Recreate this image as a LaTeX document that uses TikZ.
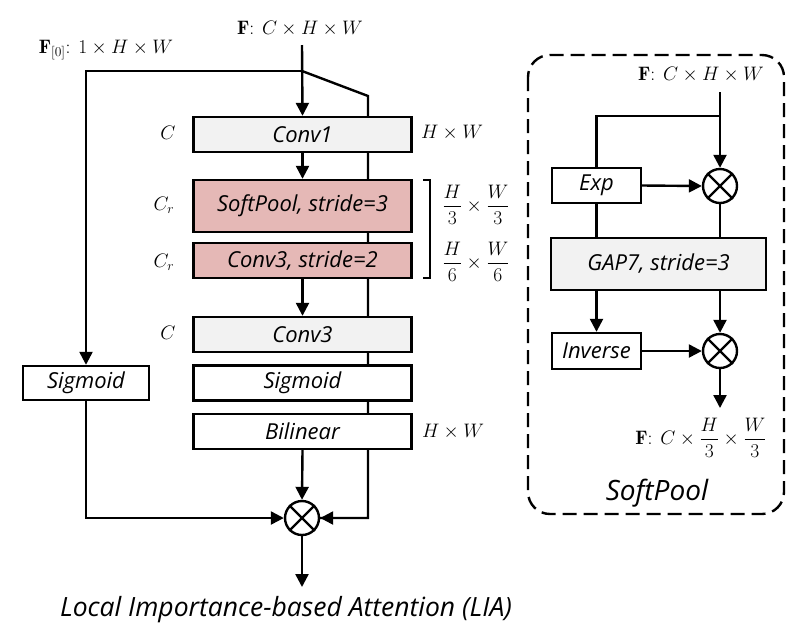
\documentclass[tikz,border=0pt]{standalone}
\usepackage{fontspec}
\setsansfont{Open Sans}
\usetikzlibrary{arrows.meta,backgrounds,calc}
\definecolor{boxgray}{HTML}{F2F2F2}
\definecolor{boxpink}{HTML}{E5B8B6}
\tikzset{
  lw/.style={line width=2.4pt},
  arr/.style={lw,-{Triangle[length=13pt,width=13pt]}},
  blk/.style={draw,lw,rectangle,inner sep=0pt,font=\sffamily\itshape\fontsize{22}{24}\selectfont},
  mainblk/.style={blk,minimum width=218pt,minimum height=35pt},
  smallblk/.style={blk,minimum width=89pt,minimum height=35pt},
  mathlbl/.style={inner sep=0pt,font=\fontsize{17.28}{20}\selectfont},
  mulnode/.style={draw,lw,circle,minimum size=34pt,inner sep=0pt},
}
\newcommand{\ml}[1]{\scalebox{1.13}{#1}}
\newcommand{\mulcross}[1]{\draw[lw] (#1.north west) -- (#1.south east); \draw[lw] (#1.north east) -- (#1.south west);}
\begin{document}
\begin{tikzpicture}[x=1pt,y=-1pt]
\useasboundingbox (0,0) rectangle (799,641);
% ---------- left: LIA ----------
\node[mathlbl] (ftop) at (300,29) {\ml{$\mathbf{F}$: $C\times H\times W$}};
\node[mathlbl] (f0) at (106,50) {\ml{$\mathbf{F}_{[0]}$: $1\times H\times W$}};
\node[mainblk,fill=boxgray] (conv1) at (302.5,134.5) {Conv1};
\node[mainblk,fill=boxpink,minimum height=52pt] (sp) at (302.5,206) {SoftPool, stride=3};
\node[mainblk,fill=boxpink] (c3s) at (302.5,260.5) {Conv3, stride=2};
\node[mainblk,fill=boxgray] (conv3) at (302.5,334.5) {Conv3};
\node[mainblk,fill=white] (sig) at (302.5,383) {Sigmoid};
\node[mainblk,fill=white] (bil) at (302.5,431.5) {Bilinear};
\node[blk,fill=white,minimum width=126pt,minimum height=34pt] (lsig) at (86,383) {Sigmoid};
\node[mulnode] (mul) at (302,518) {};
\mulcross{mul}
\node[mathlbl] (lc1) at (168,133) {\ml{$C$}};
\node[mathlbl] (lcr1) at (164,205) {\ml{$C_r$}};
\node[mathlbl] (lcr2) at (164,262) {\ml{$C_r$}};
\node[mathlbl] (lc2) at (168,333) {\ml{$C$}};
\node[mathlbl] (lhw1) at (452,133) {\ml{$H\times W$}};
\node[mathlbl] (lhw2) at (453,432) {\ml{$H\times W$}};
\node[mathlbl] (fr1) at (476,205) {\ml{$\displaystyle\frac{H}{3}\times\frac{W}{3}$}};
\node[mathlbl] (fr2) at (476,262) {\ml{$\displaystyle\frac{H}{6}\times\frac{W}{6}$}};
\draw[lw] (423,180) -- (430,180) -- (430,278) -- (423,278);
\coordinate (s1) at (302,45);
\coordinate (j1) at (302,71);
\coordinate (k1) at (368,96);
\coordinate (e1) at (302,587);
\begin{scope}[on background layer]
\draw[lw] (j1) -- (k1) -- (k1 |- mul) -- (mul.east);
\end{scope}
\draw[arr] (k1 |- mul) -- (mul.east);
\draw[arr] (s1) -- (conv1.north);
\draw[arr] (j1) -| (lsig.north);
\draw[arr] (conv1.south) -- (sp.north);
\draw[arr] (c3s.south) -- (conv3.north);
\draw[arr] (bil.south) -- (mul.north);
\draw[arr] (lsig.south) |- (mul.west);
\draw[arr] (mul.south) -- (e1);
\node[inner sep=0pt,font=\sffamily\itshape\fontsize{26.5}{30}\selectfont] (title) at (286,610) {Local Importance-based Attention (LIA)};
% ---------- right: SoftPool ----------
\draw[lw,dash pattern=on 14pt off 7pt,rounded corners=22pt] (528,55) rectangle (784,514);
\node[mathlbl] (ftop2) at (701,75) {\ml{$\mathbf{F}$: $C\times H\times W$}};
\node[smallblk,fill=white] (exp) at (596.5,185.5) {Exp};
\node[mulnode] (m1) at (720,186) {};
\mulcross{m1}
\node[blk,fill=boxgray,minimum width=215pt,minimum height=52pt] (gap) at (658.5,264) {GAP7, stride=3};
\node[smallblk,fill=white,minimum height=36pt] (inv) at (596.5,351) {Inverse};
\node[mulnode] (m2) at (720,351) {};
\mulcross{m2}
\node[mathlbl] (fout) at (701,438) {\ml{$\mathbf{F}$: $C\times\displaystyle\frac{H}{3}\times\frac{W}{3}$}};
\node[inner sep=0pt,font=\sffamily\itshape\fontsize{28}{32}\selectfont] (sptitle) at (657,493) {SoftPool};
\coordinate (s2) at (720,92);
\coordinate (j2) at (720,116);
\coordinate (e2) at (720,408);
\draw[lw] (s2) -- (j2);
\draw[arr] (j2) -- (m1.north);
\draw[lw] (j2) -| (exp.north);
\draw[arr] (exp.east) -- (m1.west);
\draw[lw] (exp.south) -- (exp.south |- gap.north);
\draw[lw] (m1.south) -- (m1.south |- gap.north);
\draw[arr] (gap.south -| exp) -- (inv.north);
\draw[arr] (gap.south -| m1) -- (m2.north);
\draw[arr] (inv.east) -- (m2.west);
\draw[arr] (m2.south) -- (e2);
\end{tikzpicture}
\end{document}
